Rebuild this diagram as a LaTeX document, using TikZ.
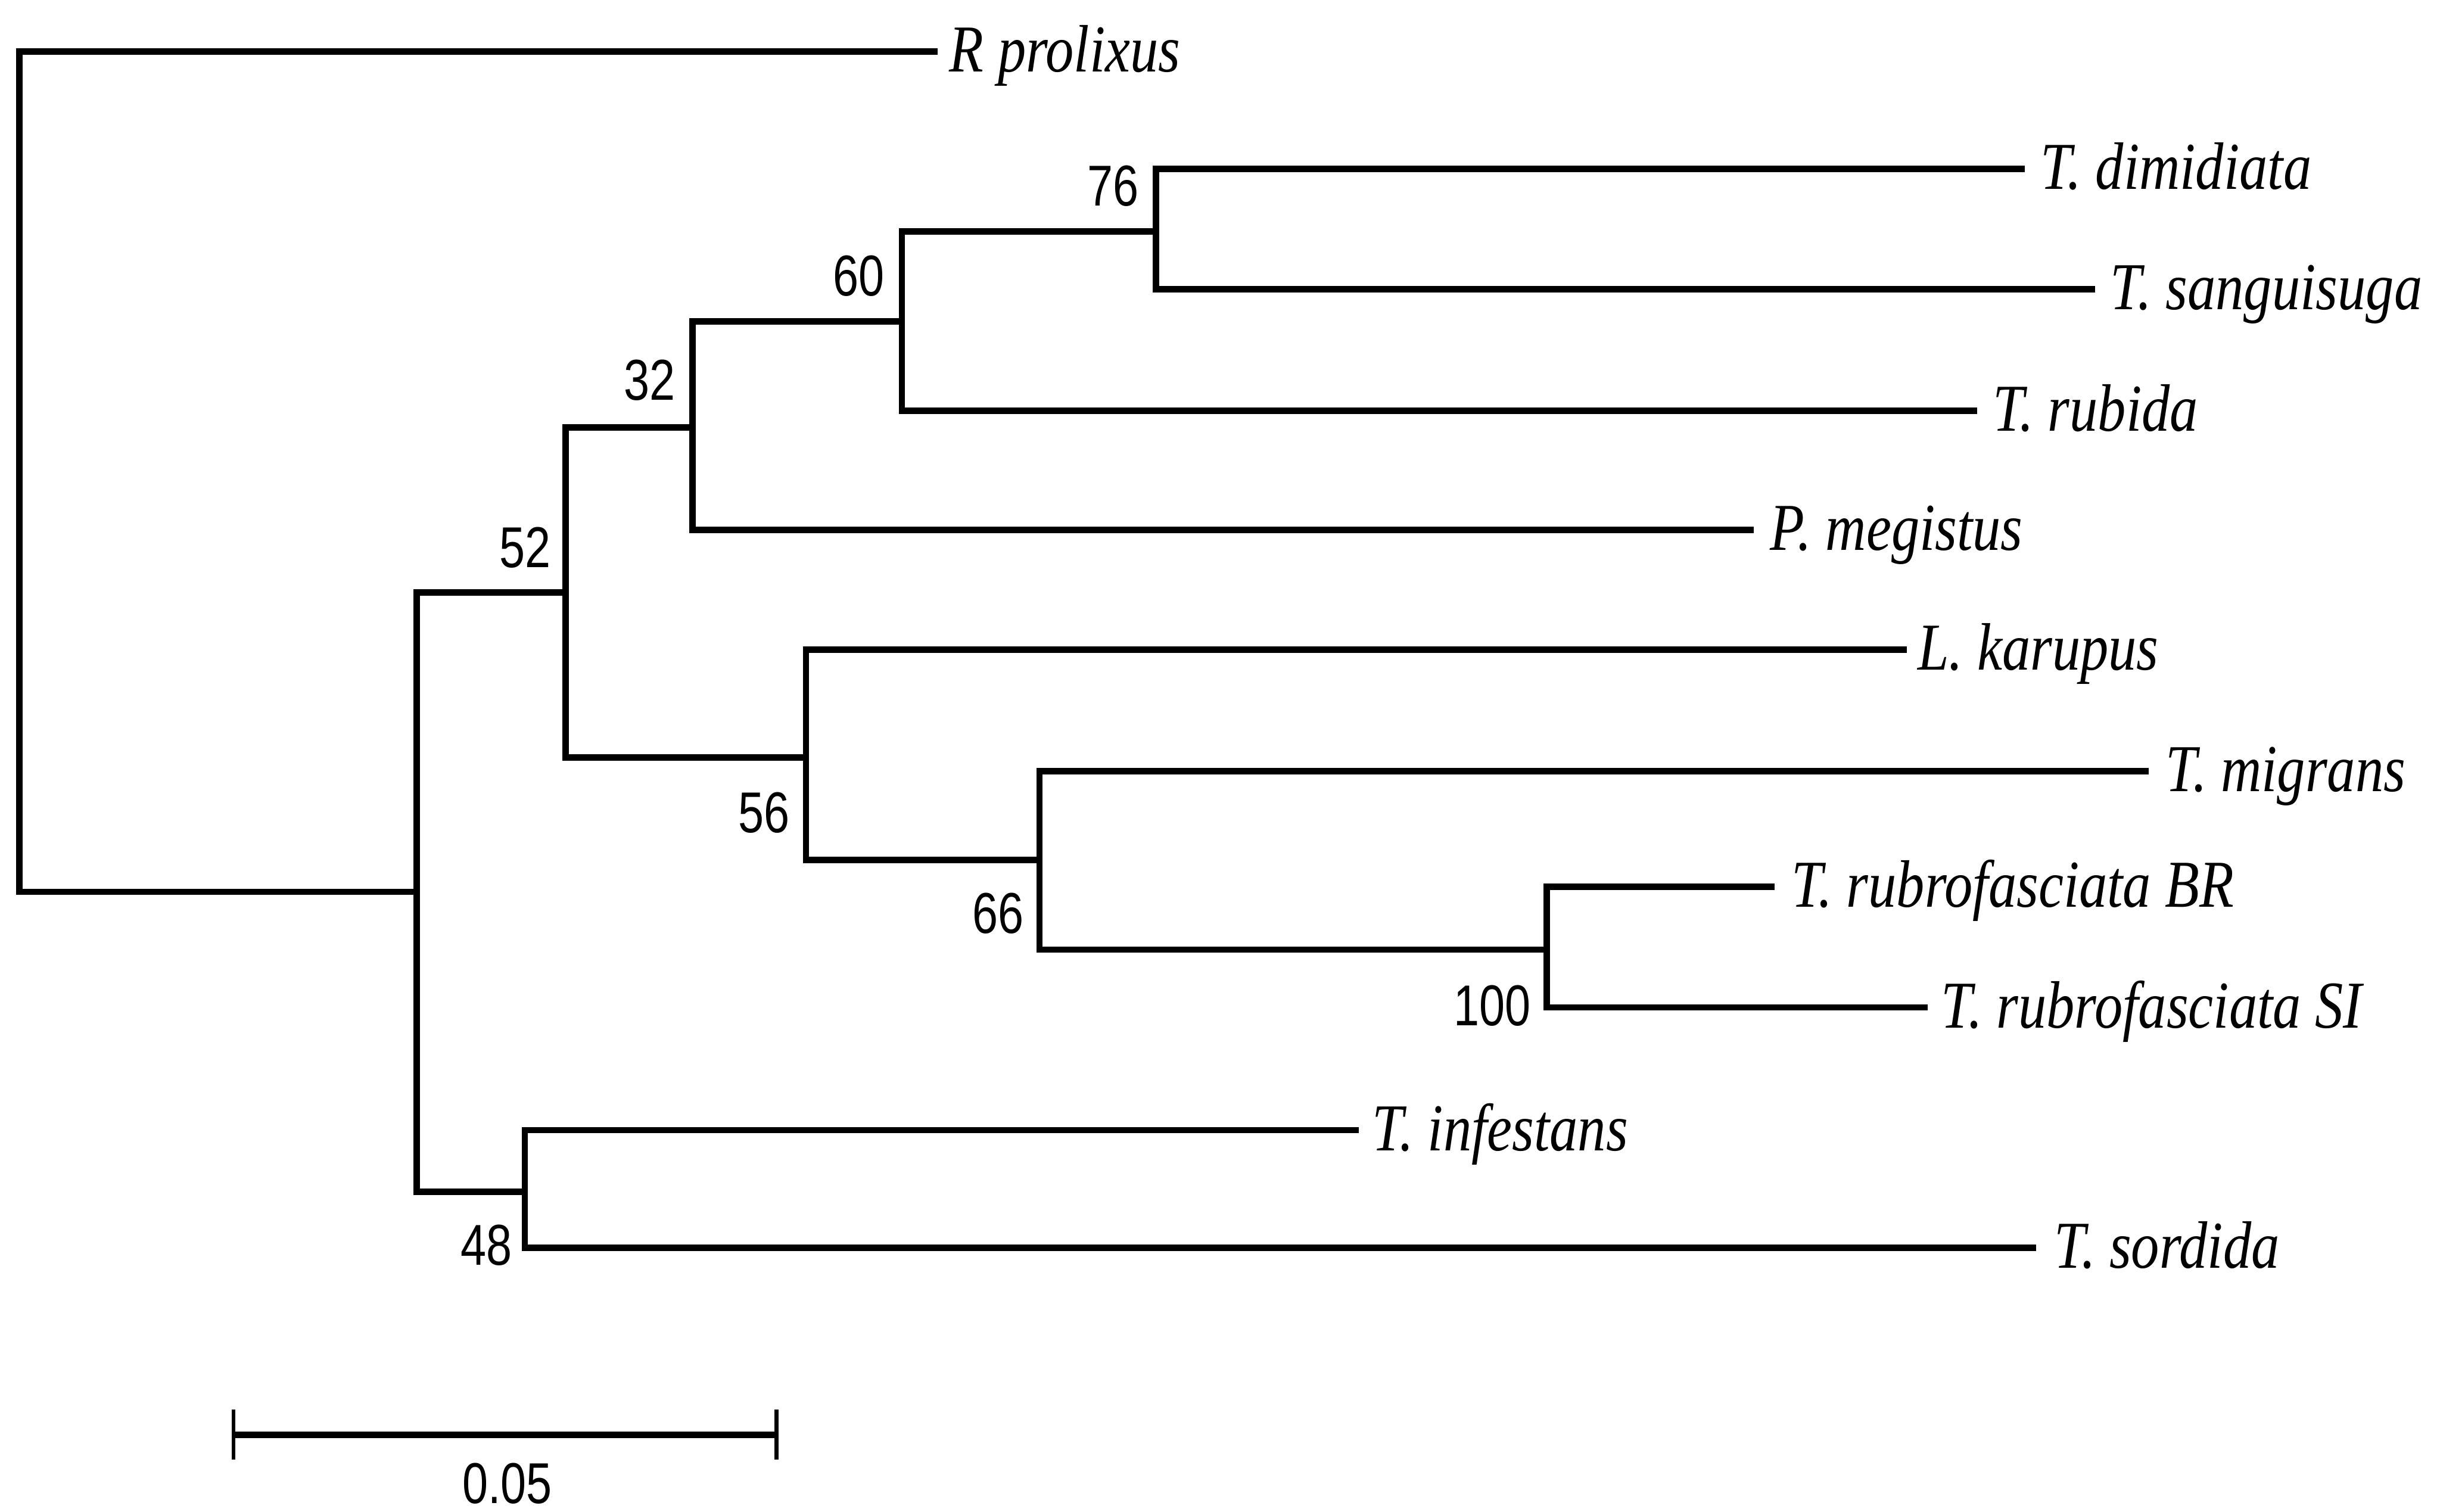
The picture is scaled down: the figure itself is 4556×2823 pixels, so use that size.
\documentclass[tikz,border=0pt]{standalone}
\usepackage{fontspec}
\newfontfamily\taxonfont[FakeStretch=0.84]{Liberation Serif}
\newfontfamily\supportfont[FakeStretch=0.8]{Liberation Sans}
\begin{document}
\begin{tikzpicture}[x=0.01cm, y=-0.01cm,
  branch/.style={line width=3.4pt, line join=miter, line cap=rect},
  taxon/.style={anchor=base west, inner sep=0pt, font=\taxonfont\itshape\fontsize{35.6}{40}\selectfont},
  support/.style={anchor=center, inner sep=0pt, font=\supportfont\fontsize{30.6}{34}\selectfont},
  tick/.style={line width=2pt}]
\useasboundingbox (0,0) rectangle (4556,2823);

% internal nodes (x = distance from root, y = attachment height)
\coordinate (root) at (36, 880);
\coordinate (nB)   at (778, 1665);
\coordinate (n52)  at (1056, 1106);
\coordinate (n32)  at (1293, 798);
\coordinate (n60)  at (1684, 600);
\coordinate (n76)  at (2158, 432);
\coordinate (n56)  at (1505, 1414);
\coordinate (n66)  at (1941, 1606);
\coordinate (n100) at (2888, 1773);
\coordinate (n48)  at (980, 2225);

% branch tips
\coordinate (tPro) at (1745, 96);
\coordinate (tDim) at (3775, 315);
\coordinate (tSan) at (3906, 540);
\coordinate (tRub) at (3686, 767);
\coordinate (tMeg) at (3269, 989);
\coordinate (tKar) at (3555, 1213);
\coordinate (tMig) at (4006, 1440);
\coordinate (tBR)  at (3307, 1656);
\coordinate (tSI)  at (3593, 1881);
\coordinate (tInf) at (2531, 2110);
\coordinate (tSor) at (3796, 2330);

% branches
\draw[branch] (root) |- (tPro);
\draw[branch] (root) |- (nB);
\draw[branch] (nB) |- (n52);
\draw[branch] (nB) |- (n48);
\draw[branch] (n52) |- (n32);
\draw[branch] (n52) |- (n56);
\draw[branch] (n32) |- (n60);
\draw[branch] (n32) |- (tMeg);
\draw[branch] (n60) |- (n76);
\draw[branch] (n60) |- (tRub);
\draw[branch] (n76) |- (tDim);
\draw[branch] (n76) |- (tSan);
\draw[branch] (n56) |- (tKar);
\draw[branch] (n56) |- (n66);
\draw[branch] (n66) |- (tMig);
\draw[branch] (n66) |- (n100);
\draw[branch] (n100) |- (tBR);
\draw[branch] (n100) |- (tSI);
\draw[branch] (n48) |- (tInf);
\draw[branch] (n48) |- (tSor);

% taxon names
\node[taxon] (lPro) at (1772, 134) {R prolixus};
\node[taxon] (lDim) at (3809, 353) {T. dimidiata};
\node[taxon] (lSan) at (3940, 578) {T. sanguisuga};
\node[taxon] (lRub) at (3720, 805) {T. rubida};
\node[taxon] (lMeg) at (3305, 1027) {P. megistus};
\node[taxon] (lKar) at (3580, 1251) {L. karupus};
\node[taxon] (lMig) at (4043, 1478) {T. migrans};
\node[taxon] (lBR)  at (3344, 1694) {T. rubrofasciata BR};
\node[taxon] (lSI)  at (3624, 1919) {T. rubrofasciata SI};
\node[taxon] (lInf) at (2562, 2148) {T. infestans};
\node[taxon] (lSor) at (3835, 2368) {T. sordida};

% bootstrap values
\node[support] (b76)  at (2078, 347)  {76};
\node[support] (b60)  at (1603, 515)  {60};
\node[support] (b32)  at (1213, 710)  {32};
\node[support] (b52)  at (980, 1022)  {52};
\node[support] (b56)  at (1427, 1517) {56};
\node[support] (b66)  at (1864, 1705) {66};
\node[support] (b100) at (2786, 1878) {100};
\node[support] (b48)  at (908, 2325)  {48};

% scale bar
\coordinate (sL) at (436, 2679);
\coordinate (sR) at (1450, 2679);
\draw[branch, line cap=butt] (sL) -- (sR);
\draw[tick] ([yshift=0.47cm]sL) -- ([yshift=-0.46cm]sL);
\draw[tick] ([yshift=0.47cm]sR) -- ([yshift=-0.46cm]sR);
\node[support] (sLab) at (947, 2770) {0.05};
\end{tikzpicture}
\end{document}
